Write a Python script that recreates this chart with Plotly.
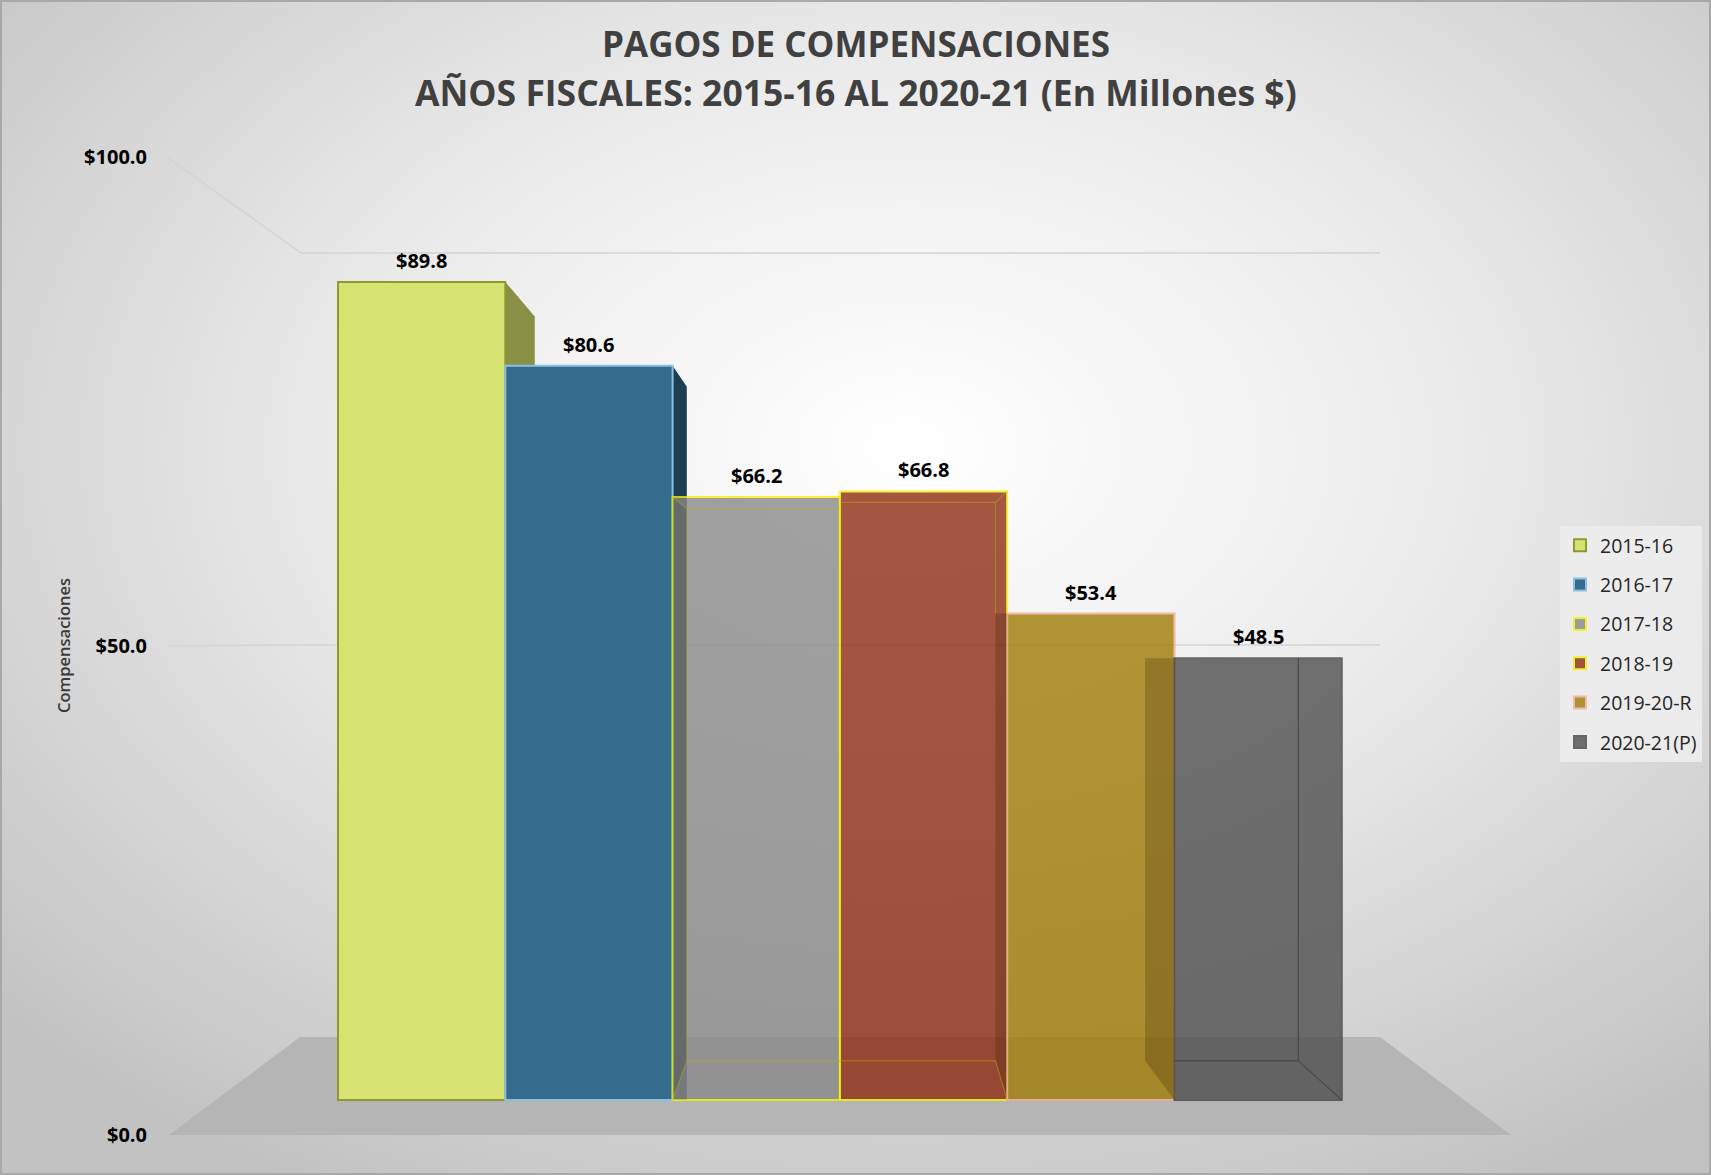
import base64
import plotly.graph_objects as go

# ---------------- data ----------------
categories = ["2015-16", "2016-17", "2017-18", "2018-19", "2019-20-R", "2020-21(P)"]
values = [89.8, 80.6, 66.2, 66.8, 53.4, 48.5]
tick_values = [0, 50, 100]
tick_labels = ["$0.0", "$50.0", "$100.0"]
axis_title = "Compensaciones"
title_lines = ["PAGOS DE COMPENSACIONES",
               "AÑOS FISCALES: 2015-16 AL 2020-21 (En Millones $)"]

# ---------------- styles ----------------
fill_colors = ["#d6e373", "#356b8c", "#8a8a8a", "#8f2e12", "#a07c05", "#4f4f4f"]
bar_opacity = [1.0, 1.0, 0.8, 0.8, 0.8, 0.8]
edge_colors = ["#8c9a30", "#8cbfe0", "#f2f200", "#f2f200", "#f2ad9a", "#454545"]
side_colors = ["#8a9146", "#1e3e52", None, None, None, None]
right_side_dx = [0.176, 0.085, 0, 0, 0, 0]
right_side_dy = [3.8, 2.3, 0, 0, 0, 0]
left_strip_dx = [0, 0, 0.085, 0, 0.07, 0.176]   # depth strip on the left edge
strip_inside = [False, False, True, False, False, False]
back_top_drop = [0, 0, 1.3, 1.2, 0, 0]

FIG_W, FIG_H = 1711, 1175
L, R, T, B = 160, 171, 140, 25
W = FIG_W - L - R
H = FIG_H - T - B
BOT = FIG_H - B

# bar axis (front faces): 0 at 1100px, 9.11 px / unit
BAR_BASE_PX, BAR_PX_PER_UNIT = 1100, 9.11
y_lo = -(BOT - BAR_BASE_PX) / BAR_PX_PER_UNIT
y_hi = y_lo + H / BAR_PX_PER_UNIT
# tick axis: 0 at 1135px, 100 at 157px
TK0, TK100 = 1135, 157
tk_ppu = (TK0 - TK100) / 100
y2_lo = -(BOT - TK0) / tk_ppu
y2_hi = y2_lo + H / tk_ppu
# x axis: first bar starts at 338px, each bar 167.3px wide
BAR_LEFT_PX, BAR_W_PX = 338, 167.3
x_lo = -0.5 - (BAR_LEFT_PX - L) / BAR_W_PX
x_hi = x_lo + W / BAR_W_PX


def px(xp):
    return (xp - L) / W


def py(yp):
    return (BOT - yp) / H


FONT = "Open Sans"
BACK_BOTTOM = 4.3

fig = go.Figure()

# right side faces (behind bars)
for i, v in enumerate(values):
    if side_colors[i]:
        x0 = i + 0.5
        fig.add_trace(go.Scatter(
            x=[x0, x0 + right_side_dx[i], x0 + right_side_dx[i], x0, x0],
            y=[v, v - right_side_dy[i], 0, 0, v],
            fill="toself", fillcolor=side_colors[i], mode="lines",
            line=dict(width=0, color=side_colors[i]), showlegend=False,
            hoverinfo="skip", zorder=-1))

# bars
for i, (c, v) in enumerate(zip(categories, values)):
    fig.add_trace(go.Bar(
        x=[i], y=[v], width=[1.0], name=c, legendgroup=c,
        opacity=bar_opacity[i],
        marker=dict(color=fill_colors[i], line=dict(color=edge_colors[i], width=2)),
        hovertemplate=c + ": $%{y:.1f}<extra></extra>", zorder=0))

# left depth strips
for i, v in enumerate(values):
    dx = left_strip_dx[i]
    if dx > 0:
        xl = i - 0.5
        if strip_inside[i]:
            xa, xb = xl, xl + dx
            xs = [xa, xb, xb, xa, xa]
            ys = [v, v - back_top_drop[i], BACK_BOTTOM, 0, v]
            col = "rgba(0,0,0,0.13)"
        else:
            xa, xb = xl - dx, xl
            xs = [xa, xb, xb, xa, xa]
            ys = [v, v, 0, BACK_BOTTOM, v]
            col = "rgba(40,25,0,0.22)"
        fig.add_trace(go.Scatter(
            x=xs, y=ys, fill="toself", fillcolor=col, mode="lines",
            line=dict(width=0), showlegend=False, hoverinfo="skip", zorder=1))

# faint back-face edges of the two central transparent bars
lx = 1.5 + left_strip_dx[2]
rx = 3.5 - left_strip_dx[4]
fig.add_trace(go.Scatter(
    x=[1.5, lx, 2.5, None, lx, lx, None, 1.5, lx, rx, 3.5, None,
       2.5, rx, 3.5, None, rx, rx],
    y=[values[2], values[2] - back_top_drop[2], values[2] - back_top_drop[2], None,
       values[2] - back_top_drop[2], BACK_BOTTOM, None,
       0, BACK_BOTTOM, BACK_BOTTOM, 0, None,
       values[3] - back_top_drop[3], values[3] - back_top_drop[3], values[3], None,
       values[3] - back_top_drop[3], values[4]],
    mode="lines", line=dict(color="rgba(190,170,20,0.45)", width=1.2),
    showlegend=False, hoverinfo="skip", zorder=1))

# inner back-face edges of last (transparent) bar
last = len(values) - 1
bx = last + 0.5 - 0.26
fig.add_trace(go.Scatter(
    x=[bx, bx, last - 0.5, None, bx, last + 0.5],
    y=[values[last], BACK_BOTTOM, BACK_BOTTOM, None, BACK_BOTTOM, 0],
    mode="lines", line=dict(color="#4a4a4a", width=1.2),
    showlegend=False, hoverinfo="skip", zorder=1))

# dummy trace for tick axis
fig.add_trace(go.Scatter(x=[None], y=[None], yaxis="y2", showlegend=False, hoverinfo="skip"))

# value labels
annotations = []
for i, v in enumerate(values):
    annotations.append(dict(
        x=i, y=v, xref="x", yref="y", text=f"${v:.1f}", showarrow=False,
        yanchor="bottom", yshift=6,
        font=dict(family=FONT, size=20, color="#000000", weight="bold")))

# titles
annotations.append(dict(x=px(855.5), y=py(44), xref="paper", yref="paper",
                        text=title_lines[0], showarrow=False, yanchor="middle",
                        font=dict(family=FONT, size=35, color="#404040", weight="bold")))
annotations.append(dict(x=px(855.5), y=py(92), xref="paper", yref="paper",
                        text=title_lines[1], showarrow=False, yanchor="middle",
                        font=dict(family=FONT, size=35.5, color="#404040", weight="bold")))
annotations.append(dict(x=px(63), y=py(646), xref="paper", yref="paper",
                        text=axis_title, showarrow=False, textangle=-90,
                        xanchor="center", yanchor="middle",
                        font=dict(family=FONT, size=16.5, color="#3a3a3a", weight=600)))

# floor + gridlines (decoration)
shapes = []
shapes.append(dict(type="path", xref="paper", yref="paper", layer="below",
                   path=f"M {px(300)},{py(1037)} L {px(1380)},{py(1037)} "
                        f"L {px(1511)},{py(1135)} L {px(169)},{py(1135)} Z",
                   fillcolor="#b5b5b5", line=dict(width=0)))


def back_y(v):
    return 1037 - 7.84 * v


def front_y(v):
    return 1135 - 9.78 * v


for v in tick_values[1:]:
    shapes.append(dict(type="path", xref="paper", yref="paper", layer="below",
                       path=f"M {px(167)},{py(front_y(v))} L {px(301)},{py(back_y(v))} "
                            f"L {px(1380)},{py(back_y(v))}",
                       line=dict(color="#d4d4d4", width=1.5)))

# background gradient
svg = (f'<svg xmlns="http://www.w3.org/2000/svg" width="{FIG_W}" height="{FIG_H}">'
       '<defs><radialGradient id="g" cx="0.53" cy="0.38" r="0.72">'
       '<stop offset="0" stop-color="#ffffff"/>'
       '<stop offset="0.45" stop-color="#ebebeb"/>'
       '<stop offset="1" stop-color="#c2c2c2"/></radialGradient></defs>'
       f'<rect x="1" y="1" width="{FIG_W-2}" height="{FIG_H-2}" fill="url(#g)" '
       'stroke="#a8a8a8" stroke-width="2"/></svg>')
src = "data:image/svg+xml;base64," + base64.b64encode(svg.encode()).decode()

fig.update_layout(
    width=FIG_W, height=FIG_H,
    margin=dict(l=L, r=R, t=T, b=B, autoexpand=False),
    paper_bgcolor="#dcdcdc", plot_bgcolor="rgba(0,0,0,0)",
    barmode="overlay",
    font=dict(family=FONT),
    xaxis=dict(range=[x_lo, x_hi], visible=False, fixedrange=True),
    yaxis=dict(range=[y_lo, y_hi], visible=False, fixedrange=True),
    yaxis2=dict(range=[y2_lo, y2_hi], overlaying="y", side="left",
                tickvals=tick_values, ticktext=tick_labels,
                showgrid=False, zeroline=False, showline=False, ticks="",
                ticklabelstandoff=12,
                tickfont=dict(family=FONT, size=20, color="#000000", weight="bold"),
                fixedrange=True),
    legend=dict(x=px(1560), y=py(526), xanchor="left", yanchor="top",
                bgcolor="rgba(236,236,236,0.95)", borderwidth=0,
                font=dict(family=FONT, size=19.5, color="#262626"),
                tracegroupgap=11, traceorder="grouped"),
    annotations=annotations,
    shapes=shapes,
    images=[dict(source=src, xref="paper", yref="paper", x=-L / W, y=1 + T / H,
                 sizex=FIG_W / W, sizey=FIG_H / H, xanchor="left", yanchor="top",
                 sizing="stretch", layer="below")],
)

fig.write_html("out.html", config={"displayModeBar": False},
               post_script="document.body.style.margin='0';document.body.style.overflow='hidden';")
